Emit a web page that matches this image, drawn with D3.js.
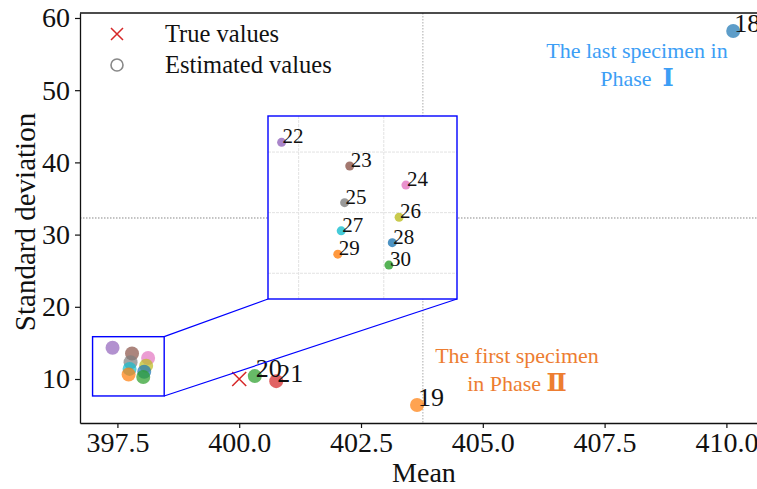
<!DOCTYPE html>
<html><head><meta charset="utf-8">
<script src="https://cdn.jsdelivr.net/npm/d3@7"></script>
<style>
body{margin:0;background:#fff}
svg{display:block}
text{font-family:"Liberation Serif","Times New Roman",serif;fill:#111}
</style>
</head><body>
<svg id="c" width="757" height="489"></svg>
<script>
// ---- data ----
const specimenIds = [18, 19, 20, 21, 22, 23, 24, 25, 26, 27, 28, 29, 30];
const estMeans = [410.14, 403.65, 400.32, 400.76, 397.40, 397.80, 398.13, 397.77, 398.09, 397.75, 398.05, 397.73, 398.03];
const estSds   = [58.2, 6.4, 10.4, 9.7, 14.32, 13.54, 12.91, 12.33, 11.85, 11.40, 11.01, 10.63, 10.27];
const trueMeans = [400.0];
const trueSds = [10.0];
const mainLabelIds = [18, 19, 20, 21];
const insetLabelIds = [22, 23, 24, 25, 26, 27, 28, 29, 30];
const xTicks = [397.5, 400.0, 402.5, 405.0, 407.5, 410.0];
const yTicks = [10, 20, 30, 40, 50, 60];
const insetXTicks = [397.5, 398.0];
const insetYTicks = [10, 12, 14];
const zoomBoxX = [396.99, 398.46];
const zoomBoxY = [7.65, 15.86];
const insetXLim = [397.32, 398.43];
const insetYLim = [9.15, 15.19];
const legendLabels = ["True values", "Estimated values"];
const noteBlue = ["The last specimen in", "Phase\u2002", "\u2160"];
const noteOrange = ["The first specimen", "in Phase ", "\u2161"];
const tab10 = ["#1f77b4","#ff7f0e","#2ca02c","#d62728","#9467bd","#8c564b","#e377c2","#7f7f7f","#bcbd22","#17becf"];

const pts = specimenIds.map((id, i) => ({id, m: estMeans[i], s: estSds[i], c: tab10[i % 10]}));

const svg = d3.select("#c");
const L = 80, R = 770, T = 13, B = 423;
const x = d3.scaleLinear().domain([396.732, 410.895]).range([L, R]);
const y = d3.scaleLinear().domain([3.906, 60.69]).range([B, T]);

// reference lines at range midpoints
const midX = (d3.min(estMeans) + d3.max(estMeans)) / 2;
const midY = (d3.min(estSds) + d3.max(estSds)) / 2;
svg.append("line").attr("x1", x(midX)).attr("x2", x(midX)).attr("y1", T).attr("y2", B)
  .attr("stroke", "#aaa").attr("stroke-width", 1).attr("stroke-dasharray", "1.5,1.5");
svg.append("line").attr("x1", L).attr("x2", R).attr("y1", y(midY)).attr("y2", y(midY))
  .attr("stroke", "#888").attr("stroke-width", 1).attr("stroke-dasharray", "1.5,1.5");

// axes
const xa = svg.append("g").attr("transform", `translate(0,${B})`)
  .call(d3.axisBottom(x).tickValues(xTicks).tickFormat(d3.format(".1f")).tickSize(5).tickSizeOuter(0).tickPadding(4));
const ya = svg.append("g").attr("transform", `translate(${L},0)`)
  .call(d3.axisLeft(y).tickValues(yTicks).tickFormat(d3.format("d")).tickSize(5).tickSizeOuter(0).tickPadding(5));
[xa, ya].forEach(a => {
  a.selectAll("text").attr("font-size", 28).attr("font-family", "Liberation Serif").attr("fill", "#111");
  a.selectAll("line").attr("stroke", "#111").attr("stroke-width", 1.2);
  a.select(".domain").attr("stroke", "#111").attr("stroke-width", 1.3);
});
svg.append("line").attr("x1", L).attr("x2", R).attr("y1", T).attr("y2", T).attr("stroke", "#111").attr("stroke-width", 1.3);
svg.append("line").attr("x1", R).attr("x2", R).attr("y1", T).attr("y2", B).attr("stroke", "#111").attr("stroke-width", 1.3);

svg.append("text").attr("x", 424).attr("y", 482).attr("text-anchor", "middle").attr("font-size", 28).text("Mean");
svg.append("text").attr("transform", "translate(35,222) rotate(-90)").attr("text-anchor", "middle")
  .attr("font-size", 29).text("Standard deviation");

// true value marker
const crossSize = 7;
trueMeans.forEach((m, i) => {
  const cx = x(m), cy = y(trueSds[i]);
  svg.append("path").attr("d", `M${cx-crossSize},${cy-crossSize}L${cx+crossSize},${cy+crossSize}M${cx-crossSize},${cy+crossSize}L${cx+crossSize},${cy-crossSize}`)
    .attr("stroke", "#d62728").attr("stroke-width", 1.5).attr("fill", "none");
});

// estimated points
svg.append("g").selectAll("circle").data(pts).join("circle")
  .attr("cx", d => x(d.m)).attr("cy", d => y(d.s)).attr("r", 7)
  .attr("fill", d => d.c).attr("fill-opacity", 0.72);

svg.append("g").selectAll("text").data(pts.filter(d => mainLabelIds.includes(d.id))).join("text")
  .attr("x", d => x(d.m) + 1).attr("y", d => y(d.s) + 1).attr("font-size", 26).text(d => d.id);

// annotations
const blue = "#3c9ef5", orange = "#ed7d31";
svg.append("text").attr("x", 637).attr("y", 58).attr("text-anchor", "middle").attr("font-size", 22)
  .style("fill", blue).text(noteBlue[0]);
const tb = svg.append("text").attr("x", 637).attr("y", 86).attr("text-anchor", "middle").attr("font-size", 22).style("fill", blue);
tb.append("tspan").text(noteBlue[1]);
tb.append("tspan").attr("font-family", "DejaVu Serif").attr("font-weight", "bold").attr("font-size", 24).text(noteBlue[2]);
svg.append("text").attr("x", 517).attr("y", 363).attr("text-anchor", "middle").attr("font-size", 22)
  .style("fill", orange).text(noteOrange[0]);
const to = svg.append("text").attr("x", 517).attr("y", 391).attr("text-anchor", "middle").attr("font-size", 22).style("fill", orange);
to.append("tspan").text(noteOrange[1]);
to.append("tspan").attr("font-family", "DejaVu Serif").attr("font-weight", "bold").attr("font-size", 24).text(noteOrange[2]);

// legend
const lg = svg.append("g");
lg.append("path").attr("d", "M111,28L123,40M111,40L123,28").attr("stroke", "#d62728").attr("stroke-width", 1.5);
lg.append("circle").attr("cx", 117).attr("cy", 65).attr("r", 6).attr("fill", "none").attr("stroke", "#888").attr("stroke-width", 1.6);
lg.append("text").attr("x", 165).attr("y", 42).attr("font-size", 24.5).text(legendLabels[0]);
lg.append("text").attr("x", 165).attr("y", 73).attr("font-size", 24.5).text(legendLabels[1]);

// zoom box
const boxBlue = "#0000ff";
const bx0 = x(zoomBoxX[0]), bx1 = x(zoomBoxX[1]), by0 = y(zoomBoxY[1]), by1 = y(zoomBoxY[0]);
svg.append("rect").attr("x", bx0).attr("y", by0).attr("width", bx1 - bx0).attr("height", by1 - by0)
  .attr("fill", "none").attr("stroke", boxBlue).attr("stroke-width", 1.4);

// inset
const IL = 268, IR = 457, IT = 116, IB = 299;
const ix = d3.scaleLinear().domain(insetXLim).range([IL, IR]);
const iy = d3.scaleLinear().domain(insetYLim).range([IB, IT]);
svg.append("line").attr("x1", bx1).attr("y1", by0).attr("x2", IL).attr("y2", IB).attr("stroke", boxBlue).attr("stroke-width", 1.2);
svg.append("line").attr("x1", bx1).attr("y1", by1).attr("x2", IR).attr("y2", IB).attr("stroke", boxBlue).attr("stroke-width", 1.2);
const ig = svg.append("g");
ig.append("rect").attr("x", IL).attr("y", IT).attr("width", IR - IL).attr("height", IB - IT).attr("fill", "#fff");
ig.selectAll("line.gx").data(insetXTicks).join("line").attr("class", "gx")
  .attr("x1", d => ix(d)).attr("x2", d => ix(d)).attr("y1", IT).attr("y2", IB)
  .attr("stroke", "#e2e2e2").attr("stroke-width", 1).attr("stroke-dasharray", "3,1");
ig.selectAll("line.gy").data(insetYTicks).join("line").attr("class", "gy")
  .attr("y1", d => iy(d)).attr("y2", d => iy(d)).attr("x1", IL).attr("x2", IR)
  .attr("stroke", "#e2e2e2").attr("stroke-width", 1).attr("stroke-dasharray", "3,1");
const inPts = pts.filter(d => insetLabelIds.includes(d.id));
ig.selectAll("circle").data(inPts).join("circle")
  .attr("cx", d => ix(d.m)).attr("cy", d => iy(d.s)).attr("r", 4.5)
  .attr("fill", d => d.c).attr("fill-opacity", 0.8);
ig.selectAll("text").data(inPts).join("text")
  .attr("x", d => ix(d.m) + 1).attr("y", d => iy(d.s) + 1).attr("font-size", 21).text(d => d.id);
ig.append("rect").attr("x", IL).attr("y", IT).attr("width", IR - IL).attr("height", IB - IT)
  .attr("fill", "none").attr("stroke", boxBlue).attr("stroke-width", 1.4);
</script>
</body></html>
